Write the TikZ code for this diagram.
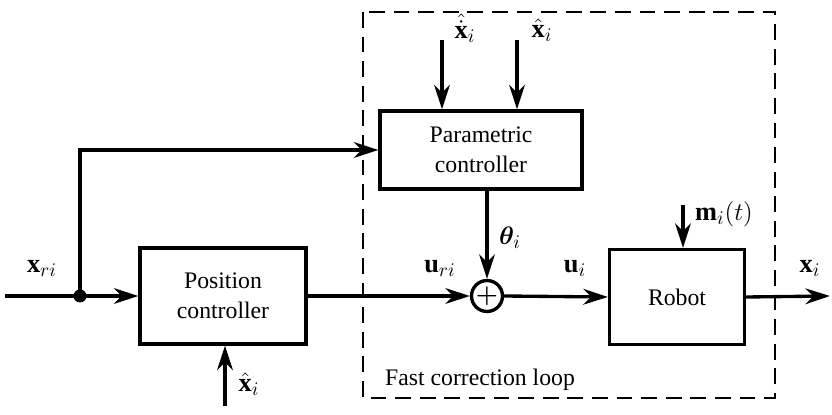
\documentclass[tikz,border=0pt]{standalone}
\usepackage{amsmath}
\usepackage{bm}
\usepackage{fontspec}
\setmainfont{Liberation Serif}
\usepackage{tikz}
\usetikzlibrary{arrows.meta,positioning}

\tikzset{
  block/.style={draw, line width=1.9pt, align=center, font=\rmfamily\fontsize{13.5}{17}\selectfont},
  sig/.style={line width=1.9pt, -{Stealth[length=14pt,width=9pt]}},
  lbl/.style={font=\fontsize{15}{17}\selectfont},
}

\begin{document}
\begin{tikzpicture}[x=0.02cm, y=-0.02cm]
\useasboundingbox (0,0) rectangle (832,415);

% Fast correction loop (dashed frame)
\draw[line width=1.2pt, dash pattern=on 9pt off 5pt] (363,12) rectangle (775,398);
\node[font=\rmfamily\fontsize{13.5}{17}\selectfont] (looplbl) at (480,380) {Fast correction loop};

% Blocks
\node[block, minimum width=4.04cm, minimum height=1.56cm] (param) at (481,150) {Parametric\\controller};
\node[block, minimum width=3.32cm, minimum height=1.92cm] (pos) at (223,296) {Position\\controller};
\node[block, minimum width=2.7cm, minimum height=1.9cm] (robot) at (677,297) {Robot};
\node[draw, circle, line width=1.9pt, minimum size=0.62cm, inner sep=0pt, font=\Large] (sum) at (487,296) {$\bm{+}$};

% Input and junction
\coordinate (in) at (5,296);
\fill (80,296) circle (0.13cm);
\coordinate (jn) at (80,296);
\draw[sig] (in) -- (pos.west);
\draw[sig] (jn) |- (param.west);
\node[lbl] (xri) at (42,268) {$\mathbf{x}_{ri}$};

% Main path
\draw[sig] (pos.east) -- (sum.west);
\node[lbl] (uri) at (440,268) {$\mathbf{u}_{ri}$};
\draw[sig] (param.south -| sum.north) -- (sum.north);
\node[lbl] (thi) at (510,238) {$\bm{\theta}_i$};
\draw[sig] (sum.east) -- (robot.west);
\node[lbl] (ui) at (575,268) {$\mathbf{u}_i$};

% Output
\coordinate (out) at (830,296);
\draw[sig] (robot.east) -- (out);
\node[lbl] (xi) at (810,268) {$\mathbf{x}_i$};

% Inputs to parametric controller
\coordinate (tin1) at (442,40);
\coordinate (tin2) at (517,40);
\draw[sig] (tin1) -- (tin1 |- param.north);
\draw[sig] (tin2) -- (tin2 |- param.north);
\node[lbl] (xhd) at (465,28) {$\hat{\dot{\mathbf{x}}}_i$};
\node[lbl] (xh1) at (542,30) {$\hat{\mathbf{x}}_i$};

% Disturbance on robot
\coordinate (md) at (683,205);
\draw[sig] (md) -- (md |- robot.north);
\node[lbl] (mi) at (724,214) {$\mathbf{m}_i(t)$};

% Measurement to position controller
\coordinate (pm) at (225,406);
\draw[sig] (pm) -- (pm |- pos.south);
\node[lbl] (xh2) at (249,384) {$\hat{\mathbf{x}}_i$};

\end{tikzpicture}
\end{document}
